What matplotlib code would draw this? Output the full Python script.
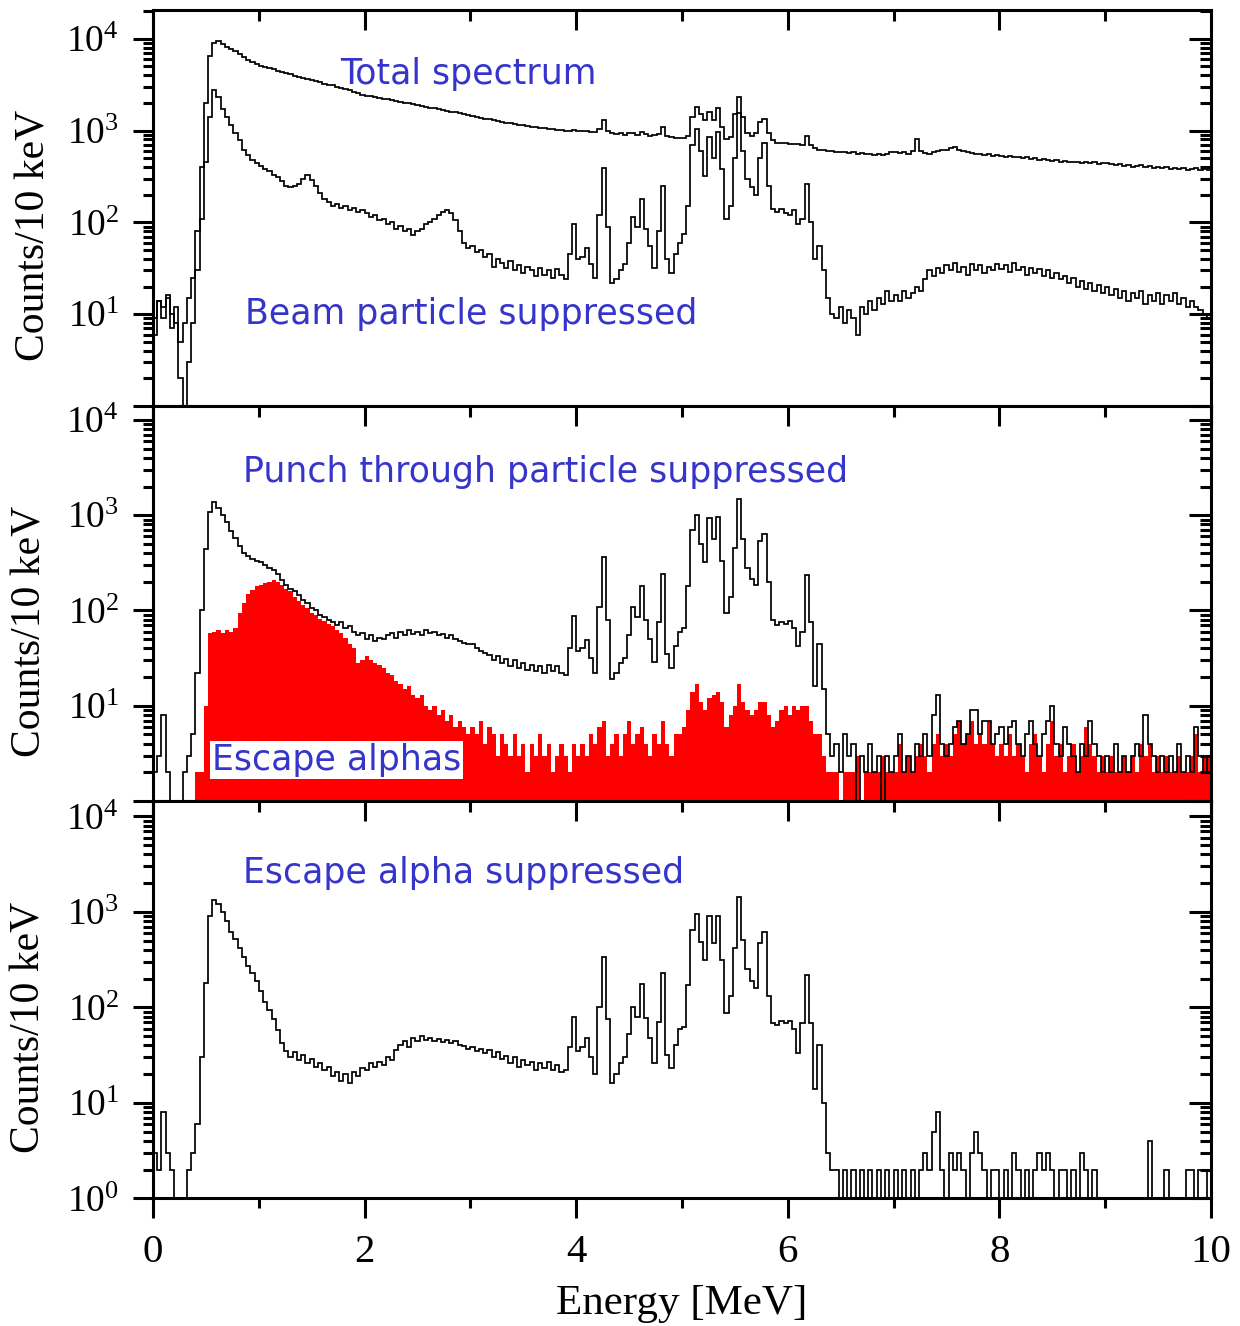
import numpy as np
import matplotlib
matplotlib.use("Agg")
import matplotlib.pyplot as plt
from matplotlib.ticker import FixedLocator, NullFormatter, LogLocator, FuncFormatter

plt.rcParams.update({
    "font.family": ["Liberation Serif", "DejaVu Serif"],
    "mathtext.fontset": "custom",
    "mathtext.rm": "Liberation Serif",
    "mathtext.it": "Liberation Serif:italic",
    "mathtext.default": "regular",
})

# ---------------- data (counts per bin, bins of 0.04 MeV from 0 to 10 MeV) ----------------
bin_width_mev = 0.04
n_bins = 250

total_spectrum = [
    9, 14, 12, 16, 10, 8, 5, 8, 15, 25, 80, 400, 2000, 6500, 9000, 9400, 8800, 8200, 7700, 7300, 6800, 6300, 5900, 5600, 5300,
    5100, 4950, 4800, 4650, 4500, 4350, 4200, 4080, 3950, 3850, 3750, 3650, 3550, 3450, 3350, 3250, 3150, 3100, 3000, 2920, 2850, 2750, 2650, 2550, 2450,
    2400, 2350, 2300, 2260, 2220, 2180, 2130, 2090, 2050, 2010, 1970, 1930, 1890, 1850, 1820, 1780, 1750, 1710, 1680, 1650, 1610, 1580, 1550, 1500, 1470,
    1440, 1410, 1380, 1350, 1320, 1290, 1260, 1240, 1220, 1200, 1180, 1160, 1140, 1120, 1100, 1090, 1070, 1060, 1040, 1030, 1020, 1010, 1000, 990, 1010,
    990, 980, 1000, 970, 960, 1050, 1300, 1000, 930, 920, 930, 900, 940, 950, 900, 960, 920, 880, 900, 920, 1080, 880, 840, 830, 830,
    830, 880, 1400, 1800, 1500, 1300, 1600, 1300, 1750, 1100, 800, 850, 1500, 2300, 1400, 950, 880, 950, 1250, 1350, 950, 780, 740, 730, 730,
    720, 710, 720, 700, 880, 700, 640, 620, 610, 600, 600, 590, 580, 590, 570, 580, 560, 570, 550, 560, 540, 550, 540, 560, 580,
    590, 570, 580, 560, 600, 800, 600, 570, 560, 580, 600, 610, 620, 650, 660, 620, 600, 590, 570, 550, 560, 540, 550, 530, 540,
    530, 520, 530, 510, 520, 500, 510, 490, 500, 480, 490, 480, 470, 480, 460, 470, 460, 450, 460, 440, 450, 440, 450, 430, 440,
    440, 430, 420, 430, 410, 420, 400, 410, 420, 400, 410, 390, 400, 390, 400, 380, 390, 380, 390, 370, 380, 390, 370, 380, 370,
]

beam_suppressed = [
    6, 14, 9, 15, 7, 12, 2, 0, 3, 8, 30, 110, 450, 1400, 2750, 2300, 1700, 1400, 1150, 950, 780, 620, 540, 480, 440,
    410, 380, 360, 330, 310, 280, 250, 240, 250, 260, 300, 330, 290, 250, 210, 180, 165, 150, 160, 145, 150, 135, 145, 130, 135,
    125, 115, 120, 105, 110, 95, 100, 85, 92, 80, 85, 72, 80, 85, 95, 100, 110, 120, 130, 135, 125, 105, 80, 60, 52,
    55, 48, 50, 42, 45, 33, 40, 36, 32, 38, 30, 34, 28, 33, 30, 26, 32, 27, 30, 25, 31, 27, 24, 45, 95,
    40, 42, 52, 35, 25, 120, 390, 90, 22, 24, 30, 35, 60, 115, 90, 180, 85, 55, 32, 80, 250, 40, 28, 45, 60,
    75, 150, 700, 1050, 600, 320, 850, 500, 960, 380, 110, 150, 500, 1550, 600, 300, 240, 200, 500, 730, 250, 140, 130, 140, 125,
    120, 135, 95, 110, 260, 100, 40, 55, 30, 15, 10, 9, 12, 8, 11, 9, 6, 12, 10, 14, 11, 15, 13, 18, 14,
    16, 14, 18, 15, 17, 20, 18, 24, 30, 26, 32, 28, 34, 30, 36, 29, 33, 27, 35, 30, 34, 28, 33, 30, 35,
    31, 34, 29, 36, 30, 33, 27, 32, 28, 31, 26, 30, 25, 28, 24, 26, 22, 25, 20, 23, 19, 22, 18, 21, 17,
    20, 16, 19, 15, 18, 14, 17, 15, 18, 13, 16, 14, 17, 13, 16, 14, 17, 13, 15, 12, 14, 12, 11, 10, 9,
]

punch_suppressed = [
    2, 3, 8, 2, 1, 0, 0, 2, 3, 5, 22, 100, 440, 1080, 1380, 1200, 1000, 850, 680, 580, 480, 400, 370, 345, 330,
    320, 300, 280, 265, 240, 210, 185, 170, 160, 145, 130, 120, 105, 100, 90, 85, 80, 76, 70, 75, 65, 68, 60, 55, 58,
    50, 55, 48, 52, 50, 55, 58, 52, 60, 55, 62, 57, 60, 55, 62, 58, 60, 55, 57, 52, 55, 50, 48, 46, 44,
    45, 40, 38, 36, 34, 30, 33, 28, 31, 26, 30, 25, 28, 24, 27, 23, 26, 22, 27, 23, 26, 22, 21, 40, 88,
    38, 40, 49, 32, 22, 110, 360, 80, 19, 22, 28, 32, 55, 110, 85, 180, 80, 50, 29, 75, 240, 35, 25, 42, 60,
    65, 180, 700, 1000, 500, 320, 940, 560, 960, 330, 95, 140, 450, 1480, 560, 280, 215, 185, 540, 630, 200, 80, 70, 75, 72,
    78, 65, 42, 60, 233, 75, 16, 45, 15, 5, 3, 4, 2, 5, 3, 4, 1, 3, 2, 4, 2, 3, 1, 3, 2,
    3, 5, 2, 3, 2, 4, 3, 5, 3, 8, 13, 4, 3, 4, 6, 7, 4, 5, 9, 9, 5, 7, 7, 4, 5,
    6, 4, 6, 7, 4, 3, 5, 7, 4, 3, 5, 7, 10, 4, 3, 6, 4, 3, 2, 4, 3, 7, 4, 3, 2,
    3, 2, 4, 2, 3, 2, 3, 4, 3, 8, 4, 3, 2, 3, 2, 3, 2, 4, 2, 3, 2, 6, 3, 2, 3,
]

escape_alphas = [
    0, 0, 0, 0, 0, 0, 0, 0, 0, 0, 2, 2, 10, 58, 60, 62, 58, 62, 60, 65, 95, 120, 150, 165, 180,
    185, 195, 200, 210, 200, 185, 170, 160, 140, 125, 115, 105, 95, 90, 82, 78, 72, 68, 62, 58, 52, 45, 40, 28, 30,
    33, 30, 28, 27, 25, 22, 21, 18, 17, 15, 16, 13, 12, 13, 10, 9, 10, 8, 9, 7, 8, 6, 7, 6, 5,
    6, 5, 7, 4, 6, 5, 3, 5, 4, 3, 5, 3, 4, 2, 4, 3, 5, 3, 4, 2, 3, 4, 3, 2, 4,
    3, 4, 3, 5, 4, 6, 7, 3, 4, 5, 3, 5, 7, 4, 5, 6, 4, 3, 5, 4, 7, 4, 3, 5, 5,
    6, 9, 14, 17, 11, 9, 12, 13, 14, 11, 6, 8, 10, 17, 11, 9, 8, 9, 11, 11, 8, 6, 7, 9, 10,
    8, 10, 9, 10, 10, 7, 5, 5, 3, 2, 2, 2, 1, 2, 2, 2, 3, 1, 2, 2, 2, 2, 3, 2, 2,
    2, 4, 2, 3, 2, 3, 4, 3, 2, 4, 5, 3, 4, 3, 5, 7, 4, 5, 7, 4, 5, 4, 7, 4, 3,
    4, 3, 5, 3, 4, 3, 2, 4, 5, 3, 2, 4, 7, 3, 4, 2, 3, 4, 2, 3, 6, 4, 3, 2, 3,
    2, 3, 2, 2, 3, 2, 3, 2, 4, 3, 4, 2, 3, 2, 3, 2, 2, 3, 2, 2, 3, 5, 2, 3, 3,
]

escape_suppressed = [
    3, 2, 8, 3, 2, 0, 0, 0, 2, 3, 6, 30, 180, 900, 1340, 1200, 1000, 800, 620, 520, 420, 340, 270, 230, 190,
    150, 115, 95, 75, 58, 42, 35, 30, 34, 28, 32, 26, 29, 24, 26, 22, 24, 19, 21, 17, 20, 16, 21, 19, 23,
    22, 26, 24, 27, 25, 30, 28, 36, 40, 44, 38, 48, 44, 50, 45, 48, 44, 47, 43, 46, 42, 44, 40, 39, 37,
    38, 35, 37, 33, 36, 30, 34, 29, 31, 26, 30, 24, 28, 25, 27, 22, 26, 23, 27, 22, 25, 21, 22, 38, 80,
    35, 38, 48, 30, 20, 100, 340, 75, 16, 20, 26, 30, 52, 102, 80, 175, 78, 48, 26, 70, 230, 32, 23, 40, 60,
    63, 170, 650, 950, 480, 310, 900, 470, 900, 315, 87, 130, 420, 1450, 510, 250, 187, 160, 470, 620, 130, 69, 65, 72, 68,
    72, 60, 33, 69, 218, 69, 14, 40, 10, 3, 2, 2, 1, 2, 1, 2, 1, 2, 1, 2, 1, 2, 1, 2, 1,
    2, 1, 2, 1, 2, 1, 2, 3, 2, 5, 8, 2, 1, 3, 2, 3, 2, 1, 3, 5, 3, 2, 1, 2, 2,
    1, 2, 1, 3, 2, 1, 2, 1, 2, 3, 2, 3, 2, 1, 2, 2, 1, 2, 1, 3, 2, 1, 2, 1, 1,
    1, 1, 1, 1, 1, 1, 1, 1, 1, 1, 4, 1, 1, 1, 2, 1, 1, 1, 1, 2, 2, 1, 2, 2, 1,
]

x_ticks = [0, 2, 4, 6, 8, 10]
x_minor_ticks = [1, 3, 5, 7, 9]
ylabel_text = "Counts/10 keV"
xlabel_text = "Energy [MeV]"

# ---------------- figure ----------------
edges = np.arange(n_bins + 1) * bin_width_mev
BLUE = "#3535cc"
LW = 1.25
SPINE_W = 2.2


def vis(v):
    v = np.asarray(v, dtype=float)
    return np.where(v > 0, v, 0.05)


fig = plt.figure(figsize=(12.4, 13.26), dpi=100)
left, width = 0.1234, 0.8532
ax_top = fig.add_axes([left, 0.6938, width, 0.2986])
ax_mid = fig.add_axes([left, 0.3959, width, 0.2979])
ax_bot = fig.add_axes([left, 0.0963, width, 0.2996])


def style(ax, ylim, labeled, show_x, ylab_coords):
    ax.set_xlim(0, 10)
    ax.set_yscale("log")
    ax.set_ylim(*ylim)
    for s in ax.spines.values():
        s.set_linewidth(SPINE_W)
    ax.yaxis.set_major_locator(FixedLocator([10.0 ** k for k in range(0, 5)]))
    ax.yaxis.set_minor_locator(LogLocator(base=10, subs=np.arange(2, 10), numticks=30))
    ax.yaxis.set_minor_formatter(NullFormatter())
    ax.yaxis.set_major_formatter(FuncFormatter(
        lambda v, p: (r"$10^{%d}$" % int(round(np.log10(v)))) if int(round(np.log10(v))) in labeled else ""))
    ax.tick_params(axis="y", which="both", direction="out", left=True, right=False,
                   width=SPINE_W, labelsize=27, pad=10)
    ax.tick_params(axis="y", which="major", length=14.5)
    ax.tick_params(axis="y", which="minor", length=7.5)
    ax.set_xticks(x_ticks)
    ax.xaxis.set_minor_locator(FixedLocator(x_minor_ticks))
    ax.tick_params(axis="x", which="both", direction="out", top=False, bottom=show_x,
                   labelbottom=show_x, width=SPINE_W, labelsize=29.5, pad=11.5)
    ax.tick_params(axis="x", which="major", length=14.5)
    ax.tick_params(axis="x", which="minor", length=7.5)
    ax.set_ylabel(ylabel_text, fontsize=30)
    ax.yaxis.set_label_coords(*ylab_coords)

    axr = ax.twinx()
    axr.set_yscale("log")
    axr.set_ylim(*ylim)
    axr.yaxis.set_major_locator(FixedLocator([10.0 ** k for k in range(0, 5)]))
    axr.yaxis.set_minor_locator(LogLocator(base=10, subs=np.arange(2, 10), numticks=30))
    axr.yaxis.set_major_formatter(NullFormatter())
    axr.yaxis.set_minor_formatter(NullFormatter())
    axr.tick_params(axis="y", which="both", direction="in", right=True, left=False,
                    labelright=False, width=SPINE_W)
    axr.tick_params(axis="y", which="major", length=15.5)
    axr.tick_params(axis="y", which="minor", length=8.2)
    for s in axr.spines.values():
        s.set_visible(False)

    axt = ax.twiny()
    axt.set_xlim(0, 10)
    axt.set_xticks(x_ticks)
    axt.xaxis.set_minor_locator(FixedLocator(x_minor_ticks))
    axt.tick_params(axis="x", which="both", direction="in", top=True, bottom=False,
                    labeltop=False, width=SPINE_W)
    axt.tick_params(axis="x", which="major", length=14.5)
    axt.tick_params(axis="x", which="minor", length=7.7)
    for s in axt.spines.values():
        s.set_visible(False)


# top panel
ax_top.stairs(vis(total_spectrum), edges, color="black", lw=LW, baseline=None)
ax_top.stairs(vis(beam_suppressed), edges, color="black", lw=LW, baseline=None)
style(ax_top, (1.0, 2.05e4), [1, 2, 3, 4], False, (-0.094, 0.43))
ax_top.text(1.77, 3240, "Total spectrum", fontsize=25, color=BLUE,
            family="DejaVu Sans", va="baseline", ha="left")
ax_top.text(0.87, 7.9, "Beam particle suppressed", fontsize=25, color=BLUE,
            family="DejaVu Sans", va="baseline", ha="left")

# middle panel
ax_mid.stairs(vis(escape_alphas), edges, fill=True, color="#ff0000", baseline=0.05, lw=0)
ax_mid.stairs(vis(punch_suppressed), edges, color="black", lw=LW, baseline=None)
style(ax_mid, (1.0, 1.4e4), [1, 2, 3, 4], False, (-0.098, 0.43))
ax_mid.text(0.855, 2210, "Punch through particle suppressed", fontsize=25, color=BLUE,
            family="DejaVu Sans", va="baseline", ha="left")
ax_mid.text(0.555, 2.11, "Escape alphas", fontsize=25, color=BLUE, family="DejaVu Sans",
            va="baseline", ha="left", zorder=10,
            bbox=dict(facecolor="white", edgecolor="none", pad=1.5))

# bottom panel
ax_bot.stairs(vis(escape_suppressed), edges, color="black", lw=LW, baseline=None)
style(ax_bot, (1.0, 1.45e4), [0, 1, 2, 3, 4], True, (-0.099, 0.43))
ax_bot.text(0.855, 2000, "Escape alpha suppressed", fontsize=25, color=BLUE,
            family="DejaVu Sans", va="baseline", ha="left")
ax_bot.set_xlabel(xlabel_text, fontsize=31)
ax_bot.xaxis.set_label_coords(0.5, -0.218)

fig.savefig("out.png", dpi=100)
